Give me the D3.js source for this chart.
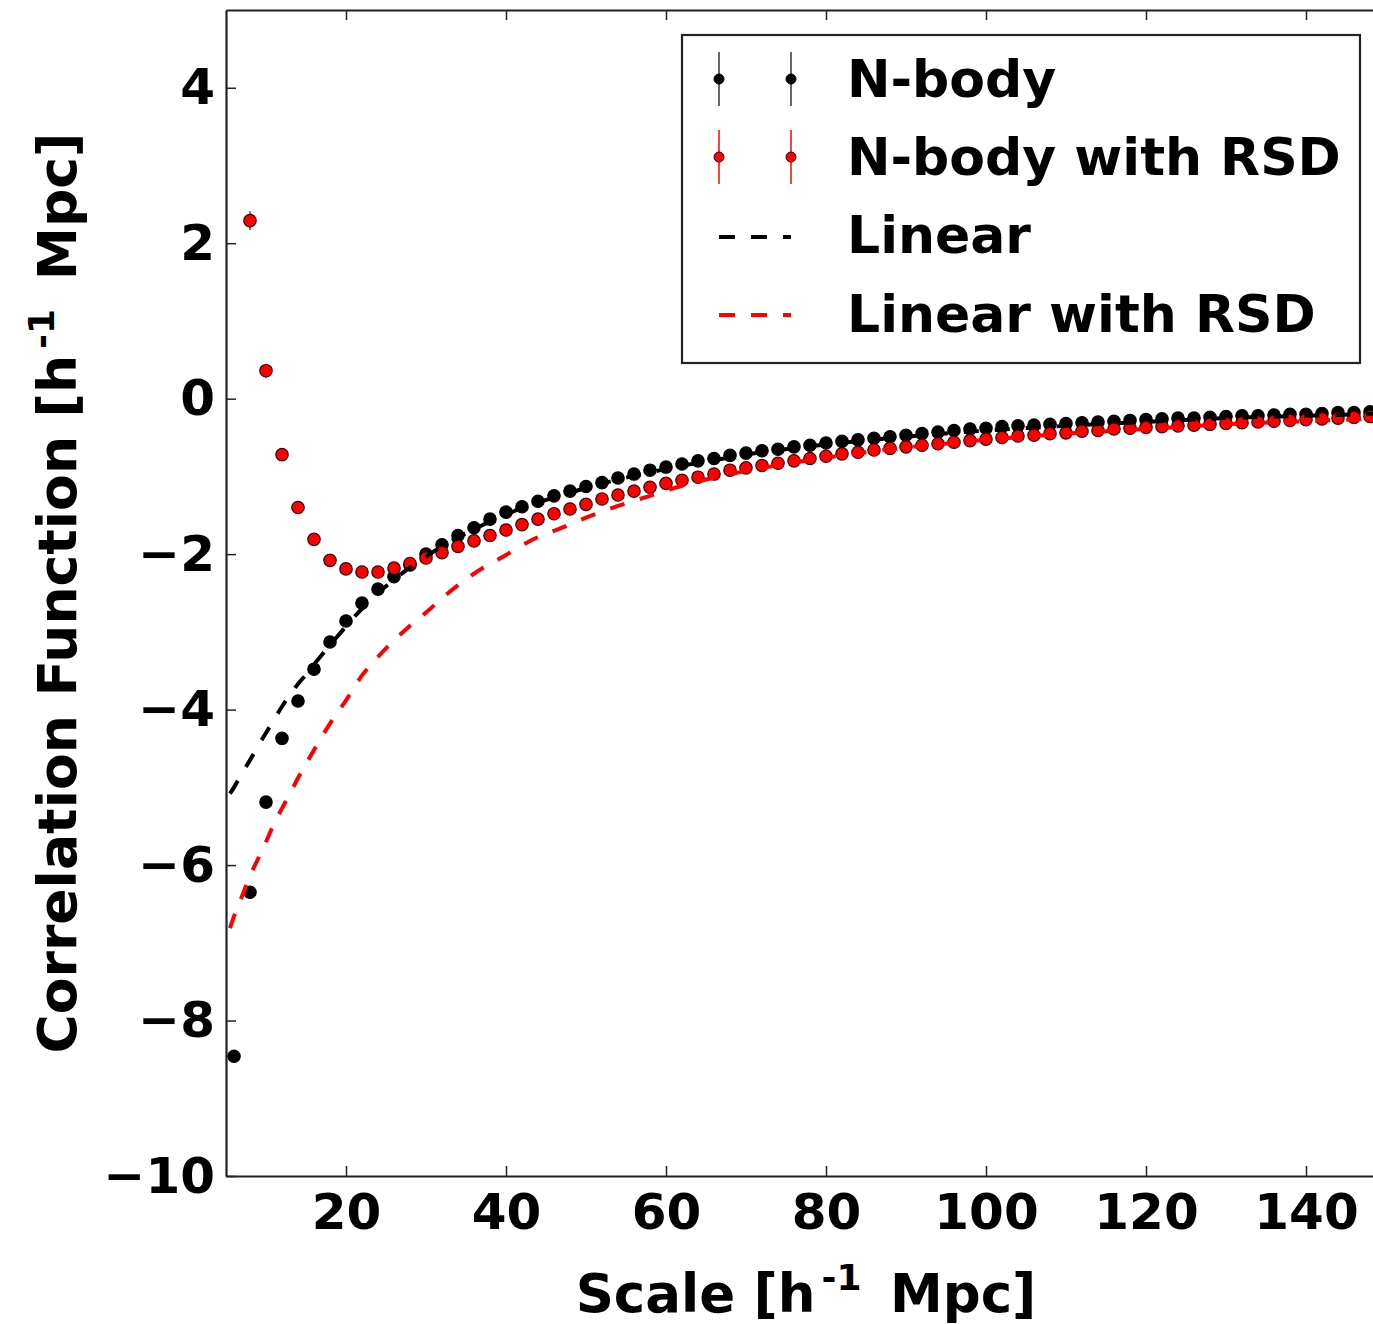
<!DOCTYPE html>
<html><head><meta charset="utf-8">
<script src="https://cdn.jsdelivr.net/npm/d3@7"></script>
<style>
body{margin:0;background:#fff}
svg{display:block}
text{font-family:"DejaVu Sans","Liberation Sans",sans-serif;font-weight:bold;fill:#000}
</style>
</head><body>
<svg id="chart" width="1373" height="1324"></svg>
<script>
// ---------- data ----------
const nbodyR = [6,8,10,12,14,16,18,20,22,24,26,28,30,32,34,36,38,40,42,44,46,48,50,52,54,56,58,60,62,64,66,68,70,72,74,76,78,80,82,84,86,88,90,92,94,96,98,100,102,104,106,108,110,112,114,116,118,120,122,124,126,128,130,132,134,136,138,140,142,144,146,148];
const nbody = [-8.46,-6.35,-5.19,-4.37,-3.89,-3.48,-3.13,-2.86,-2.63,-2.45,-2.29,-2.14,-2.00,-1.88,-1.76,-1.66,-1.55,-1.46,-1.39,-1.32,-1.25,-1.19,-1.13,-1.08,-1.02,-0.97,-0.92,-0.88,-0.84,-0.80,-0.77,-0.73,-0.70,-0.67,-0.65,-0.62,-0.60,-0.57,-0.55,-0.53,-0.51,-0.49,-0.47,-0.45,-0.43,-0.41,-0.39,-0.38,-0.36,-0.35,-0.34,-0.33,-0.32,-0.31,-0.30,-0.29,-0.28,-0.27,-0.26,-0.25,-0.25,-0.24,-0.23,-0.22,-0.22,-0.21,-0.20,-0.20,-0.19,-0.18,-0.18,-0.17];
const nbodyErr = [0.08,0.06,0.05,0.04,0.03,0.03,0.03,0.02,0.02,0.02,0.02,0.02,0.02,0.02,0.02,0.02,0.02,0.02,0.02,0.02,0.02,0.02,0.02,0.02,0.02,0.02,0.02,0.02,0.02,0.02,0.02,0.02,0.02,0.02,0.02,0.02,0.02,0.02,0.02,0.02,0.02,0.02,0.02,0.02,0.02,0.02,0.02,0.02,0.02,0.02,0.02,0.02,0.02,0.02,0.02,0.02,0.02,0.02,0.02,0.02,0.02,0.02,0.02,0.02,0.02,0.02,0.02,0.02,0.02,0.02,0.02,0.02];

const rsdR = [8,10,12,14,16,18,20,22,24,26,28,30,32,34,36,38,40,42,44,46,48,50,52,54,56,58,60,62,64,66,68,70,72,74,76,78,80,82,84,86,88,90,92,94,96,98,100,102,104,106,108,110,112,114,116,118,120,122,124,126,128,130,132,134,136,138,140,142,144,146,148];
const nbodyRSD = [2.29,0.36,-0.72,-1.40,-1.81,-2.08,-2.19,-2.23,-2.23,-2.18,-2.12,-2.05,-1.98,-1.90,-1.83,-1.76,-1.69,-1.62,-1.55,-1.48,-1.42,-1.36,-1.29,-1.24,-1.19,-1.14,-1.09,-1.05,-1.01,-0.97,-0.92,-0.89,-0.86,-0.83,-0.80,-0.77,-0.74,-0.71,-0.69,-0.66,-0.64,-0.62,-0.60,-0.58,-0.56,-0.54,-0.52,-0.50,-0.48,-0.47,-0.45,-0.44,-0.42,-0.41,-0.39,-0.38,-0.37,-0.36,-0.35,-0.34,-0.33,-0.32,-0.31,-0.30,-0.29,-0.28,-0.27,-0.26,-0.25,-0.24,-0.23];
const nbodyRSDErr = [0.12,0.09,0.06,0.05,0.04,0.03,0.03,0.02,0.02,0.02,0.02,0.02,0.02,0.02,0.02,0.02,0.02,0.02,0.02,0.02,0.02,0.02,0.02,0.02,0.02,0.02,0.02,0.02,0.02,0.02,0.02,0.02,0.02,0.02,0.02,0.02,0.02,0.02,0.02,0.02,0.02,0.02,0.02,0.02,0.02,0.02,0.02,0.02,0.02,0.02,0.02,0.02,0.02,0.02,0.02,0.02,0.02,0.02,0.02,0.02,0.02,0.02,0.02,0.02,0.02,0.02,0.02,0.02,0.02,0.02,0.02];

const linR = [5.5,6,7,8,9,10,11,12,13,14,15,16,18,20,22,24,26,28,30,33,36,40,43,47,50,54,58,62,65,70,80,90,100,110,120,130,140,150];
const linear = [-5.08,-5.00,-4.82,-4.65,-4.47,-4.30,-4.13,-3.96,-3.81,-3.67,-3.55,-3.42,-3.17,-2.93,-2.70,-2.50,-2.33,-2.17,-2.03,-1.84,-1.68,-1.49,-1.37,-1.24,-1.15,-1.04,-0.95,-0.86,-0.81,-0.72,-0.59,-0.49,-0.41,-0.35,-0.30,-0.25,-0.22,-0.19];
const linearRSD = [-6.81,-6.66,-6.40,-6.14,-5.92,-5.70,-5.47,-5.27,-5.08,-4.88,-4.70,-4.52,-4.18,-3.88,-3.56,-3.32,-3.11,-2.92,-2.75,-2.48,-2.25,-2.01,-1.83,-1.66,-1.53,-1.38,-1.25,-1.12,-1.04,-0.93,-0.76,-0.63,-0.53,-0.45,-0.39,-0.33,-0.29,-0.25];

const xTicks = [20,40,60,80,100,120,140];
const yTicks = [4,2,0,-2,-4,-6,-8,-10];
const legendLabels = ["N-body","N-body with RSD","Linear","Linear with RSD"];
const xLabel = ["Scale [h","-1"," Mpc]"];
const yLabel = ["Correlation Function [h","-1"," Mpc]"];

// ---------- layout ----------
const L = 226, R = 1386, T = 10, B = 1176;
const svg = d3.select("#chart");
const x = d3.scaleLinear().domain([5,150]).range([L,R]);
const y = d3.scaleLinear().domain([-10,5]).range([B,T]);
const fmt = d => (d < 0 ? "\u2212" + Math.abs(d) : String(d));

svg.append("defs").append("clipPath").attr("id","clip")
  .append("rect").attr("x",L).attr("y",T).attr("width",R-L).attr("height",B-T);

const plot = svg.append("g").attr("clip-path","url(#clip)");

function drawSeries(rs, vs, es, fill, edge, ecol){
  const g = plot.append("g");
  g.selectAll("line").data(rs).join("line")
    .attr("x1",(d)=>x(d)).attr("x2",(d)=>x(d))
    .attr("y1",(d,i)=>y(vs[i]-es[i])).attr("y2",(d,i)=>y(vs[i]+es[i]))
    .attr("stroke",ecol).attr("stroke-width",1.5);
  g.selectAll("circle").data(rs).join("circle")
    .attr("cx",(d)=>x(d)).attr("cy",(d,i)=>y(vs[i])).attr("r",6.2)
    .attr("fill",fill).attr("stroke",edge).attr("stroke-width",1.2);
}
drawSeries(nbodyR, nbody, nbodyErr, "#000", "#000", "#000");
drawSeries(rsdR, nbodyRSD, nbodyRSDErr, "#ff0000", "#3a0000", "#ff0000");

const line = d3.line().x(d=>x(d[0])).y(d=>y(d[1])).curve(d3.curveMonotoneX);
plot.append("path").datum(linR.map((r,i)=>[r,linear[i]]))
  .attr("d",line).attr("fill","none").attr("stroke","#000").attr("stroke-width",4)
  .attr("stroke-dasharray","15,16");
plot.append("path").datum(linR.map((r,i)=>[r,linearRSD[i]]))
  .attr("d",line).attr("fill","none").attr("stroke","#ff0000").attr("stroke-width",4)
  .attr("stroke-dasharray","15,16");

// ---------- axes ----------
function styleAxis(g){
  g.select(".domain").attr("stroke","#222").attr("stroke-width",2.2);
  g.selectAll(".tick line").attr("stroke","#222").attr("stroke-width",1.5);
  g.selectAll(".tick text").attr("font-size",50).attr("fill","#000")
    .style("font-family","'DejaVu Sans',sans-serif").style("font-weight","bold");
}
svg.append("g").attr("transform",`translate(0,${B})`)
  .call(d3.axisBottom(x).tickValues(xTicks).tickFormat(fmt).tickSize(-10).tickSizeOuter(0).tickPadding(17))
  .call(styleAxis);
svg.append("g").attr("transform",`translate(0,${T})`)
  .call(d3.axisTop(x).tickValues(xTicks).tickFormat("").tickSize(-10).tickSizeOuter(0))
  .call(styleAxis);
svg.append("g").attr("transform",`translate(${L},0)`)
  .call(d3.axisLeft(y).tickValues(yTicks).tickFormat(fmt).tickSize(-10).tickSizeOuter(0).tickPadding(11))
  .call(styleAxis);
svg.append("g").attr("transform",`translate(${R},0)`)
  .call(d3.axisRight(y).tickValues(yTicks).tickFormat("").tickSize(-10).tickSizeOuter(0))
  .call(styleAxis);

// ---------- axis labels ----------
const xl = svg.append("text").attr("x",(L+R)/2).attr("y",1312)
  .attr("text-anchor","middle").attr("font-size",53);
xl.append("tspan").text(xLabel[0]);
xl.append("tspan").attr("font-size",36).attr("dy",-22).attr("dx",6).text(xLabel[1]);
xl.append("tspan").attr("dy",22).attr("dx",10).text(xLabel[2]);

const yl = svg.append("text").attr("transform",`translate(76,${(T+B)/2}) rotate(-90)`)
  .attr("text-anchor","middle").attr("font-size",53.5);
yl.append("tspan").text(yLabel[0]);
yl.append("tspan").attr("font-size",36).attr("dy",-22).attr("dx",6).text(yLabel[1]);
yl.append("tspan").attr("dy",22).attr("dx",10).text(yLabel[2]);

// ---------- legend ----------
const lg = svg.append("g");
lg.append("rect").attr("x",682).attr("y",35).attr("width",678).attr("height",328)
  .attr("fill","#fff").attr("stroke","#222").attr("stroke-width",2.2);
const rowY = [79,157,237,315];
const baseY = [97,175,253,332];
const mx = [719,791];
const legendStyle = [
  {kind:"pt", fill:"#000", edge:"#000", ecol:"#333"},
  {kind:"pt", fill:"#ff0000", edge:"#3a0000", ecol:"#ff0000"},
  {kind:"ln", col:"#000"},
  {kind:"ln", col:"#ff0000"}
];
legendLabels.forEach((lab,i)=>{
  const s = legendStyle[i];
  if(s.kind==="pt"){
    mx.forEach(px=>{
      lg.append("line").attr("x1",px).attr("x2",px).attr("y1",rowY[i]-27).attr("y2",rowY[i]+27)
        .attr("stroke",s.ecol).attr("stroke-width",1.5);
      lg.append("circle").attr("cx",px).attr("cy",rowY[i]).attr("r",5)
        .attr("fill",s.fill).attr("stroke",s.edge).attr("stroke-width",1);
    });
  } else {
    lg.append("line").attr("x1",mx[0]).attr("x2",mx[1]).attr("y1",rowY[i]).attr("y2",rowY[i])
      .attr("stroke",s.col).attr("stroke-width",4).attr("stroke-dasharray","16,16");
  }
  lg.append("text").attr("x",847).attr("y",baseY[i]).attr("font-size",52).text(lab);
});
</script>
</body></html>
